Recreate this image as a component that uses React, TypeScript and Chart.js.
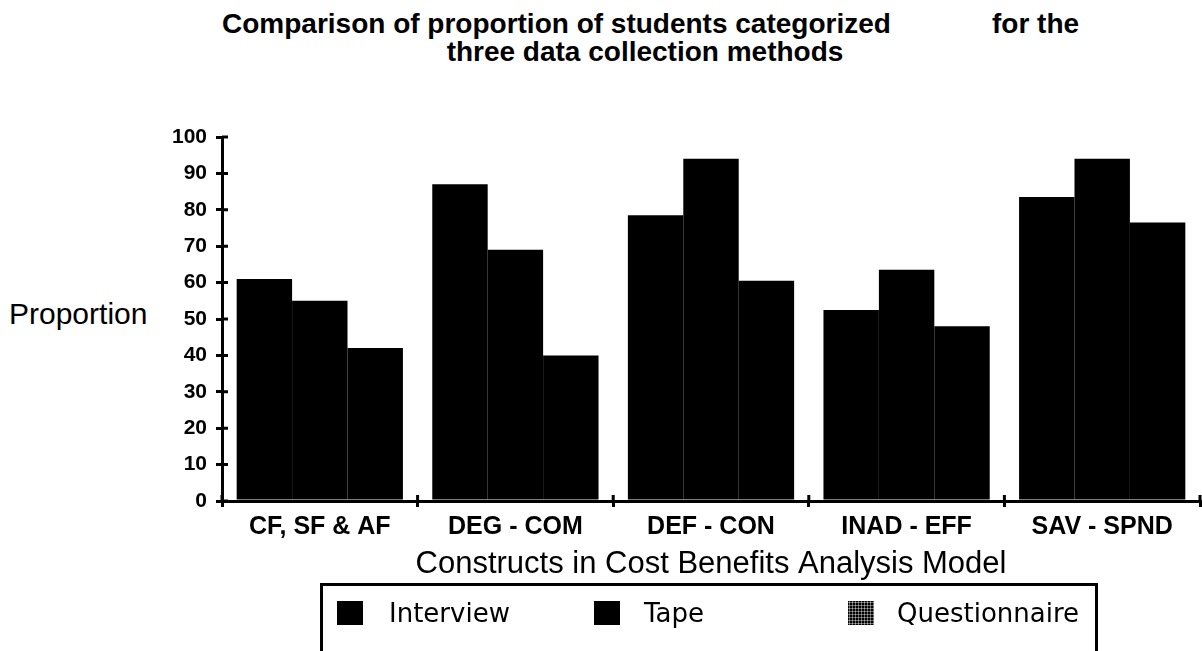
import React, { useEffect, useRef } from "react";
import { Chart, registerables } from "chart.js";

Chart.register(...registerables);

// Constructs on the x axis
const categories = ["CF, SF & AF", "DEG - COM", "DEF - CON", "INAD - EFF", "SAV - SPND"];

// Proportion of students categorized, per data collection method
const interview = [61, 87, 78.5, 52.5, 83.5];
const tape = [55, 69, 94, 63.5, 94];
const questionnaire = [42, 40, 60.5, 48, 76.5];

const seriesNames = ["Interview", "Tape", "Questionnaire"];
const yMin = 0;
const yMax = 100;
const yStep = 10;

const titleLine1a = "Comparison of proportion of students categorized";
const titleLine1b = "for the";
const titleLine2 = "three data collection methods";
const yAxisLabel = "Proportion";
const xAxisLabel = "Constructs in Cost Benefits Analysis Model";

const sans = "'Liberation Sans', Arial, Helvetica, sans-serif";

// Tick marks that cross the axis lines (inner half; Chart.js draws the outer half)
const crossTicks = {
  id: "crossTicks",
  afterDraw(chart: any) {
    const { ctx, scales } = chart;
    const x = scales.x;
    const y = scales.y;
    ctx.save();
    ctx.strokeStyle = "#000";
    ctx.lineWidth = 3;
    ctx.beginPath();
    y.ticks.forEach((t: any) => {
      const py = y.getPixelForValue(t.value);
      ctx.moveTo(y.right, py);
      ctx.lineTo(y.right + 6, py);
    });
    const n = categories.length;
    for (let i = 0; i <= n; i++) {
      const px = x.left + (i * x.width) / n;
      ctx.moveTo(px, x.top);
      ctx.lineTo(px, x.top - 6);
    }
    ctx.stroke();
    ctx.restore();
  },
};

export default function App() {
  const canvasRef = useRef<HTMLCanvasElement | null>(null);

  useEffect(() => {
    if (!canvasRef.current) return;
    const chart = new Chart(canvasRef.current, {
      type: "bar",
      data: {
        labels: categories,
        datasets: [
          { label: seriesNames[0], data: interview, backgroundColor: "#000" },
          { label: seriesNames[1], data: tape, backgroundColor: "#000" },
          { label: seriesNames[2], data: questionnaire, backgroundColor: "#000" },
        ],
      },
      options: {
        responsive: false,
        animation: false,
        devicePixelRatio: 1,
        layout: { padding: { top: 137, right: 2, left: 0, bottom: 68 } },
        datasets: { bar: { barPercentage: 1, categoryPercentage: 0.85 } },
        plugins: {
          legend: { display: false },
          title: { display: false },
          tooltip: { enabled: false },
        },
        scales: {
          x: {
            grid: {
              drawOnChartArea: false,
              drawTicks: true,
              tickLength: 6,
              color: "#000",
              lineWidth: 3,
            },
            border: { display: true, color: "#000", width: 3 },
            ticks: {
              color: "#000",
              padding: 5,
              maxRotation: 0,
              font: { family: sans, weight: "bold", size: 25 },
            },
            title: {
              display: true,
              text: xAxisLabel,
              color: "#000",
              padding: { top: 0, bottom: 0 },
              font: { family: sans, size: 31 },
            },
            afterFit: (s: any) => {
              s.height = 82;
            },
          },
          y: {
            min: yMin,
            max: yMax,
            grid: {
              drawOnChartArea: false,
              drawTicks: true,
              tickLength: 6,
              color: "#000",
              lineWidth: 3,
            },
            border: { display: true, color: "#000", width: 3 },
            ticks: {
              stepSize: yStep,
              color: "#000",
              padding: 9,
              font: { family: sans, weight: "bold", size: 21 },
            },
            afterFit: (s: any) => {
              s.width = 222;
            },
          },
        },
      },
      plugins: [crossTicks],
    });
    return () => chart.destroy();
  }, []);

  const swatch = (left: number): React.CSSProperties => ({
    position: "absolute",
    left,
    top: 601,
    width: 26,
    height: 24,
    background: "#000",
  });
  const legendText = (left: number): React.CSSProperties => ({
    position: "absolute",
    left,
    top: 597,
    fontFamily: "'DejaVu Sans', sans-serif",
    fontSize: 26,
    lineHeight: "32px",
    color: "#000",
    whiteSpace: "nowrap",
  });
  const titleText: React.CSSProperties = {
    position: "absolute",
    fontFamily: sans,
    fontWeight: "bold",
    fontSize: 28,
    lineHeight: "28px",
    color: "#000",
    whiteSpace: "nowrap",
  };

  return (
    <div
      style={{
        position: "fixed",
        left: 0,
        top: 0,
        width: 1202,
        height: 651,
        background: "#fff",
        overflow: "hidden",
      }}
    >
      <div style={{ ...titleText, left: 222, top: 10 }}>{titleLine1a}</div>
      <div style={{ ...titleText, left: 992, top: 10 }}>{titleLine1b}</div>
      <div style={{ ...titleText, left: 0, width: 1290, top: 38, textAlign: "center" }}>{titleLine2}</div>
      <div
        style={{
          position: "absolute",
          left: 9,
          top: 296,
          fontFamily: sans,
          fontSize: 30,
          lineHeight: "36px",
          color: "#000",
        }}
      >
        {yAxisLabel}
      </div>
      <canvas ref={canvasRef} width={1202} height={651} style={{ position: "absolute", left: 0, top: 0 }} />
      <div
        style={{
          position: "absolute",
          left: 320,
          top: 583,
          width: 772,
          height: 120,
          border: "3px solid #000",
        }}
      />
      <div style={swatch(337)} />
      <div style={legendText(389)}>{seriesNames[0]}</div>
      <div style={swatch(594)} />
      <div style={legendText(644)}>{seriesNames[1]}</div>
      <div
        style={{
          ...swatch(848),
          backgroundImage: "radial-gradient(circle, #aaa 0.8px, transparent 1.3px)",
          backgroundSize: "3px 3px",
        }}
      />
      <div style={legendText(897)}>{seriesNames[2]}</div>
    </div>
  );
}
